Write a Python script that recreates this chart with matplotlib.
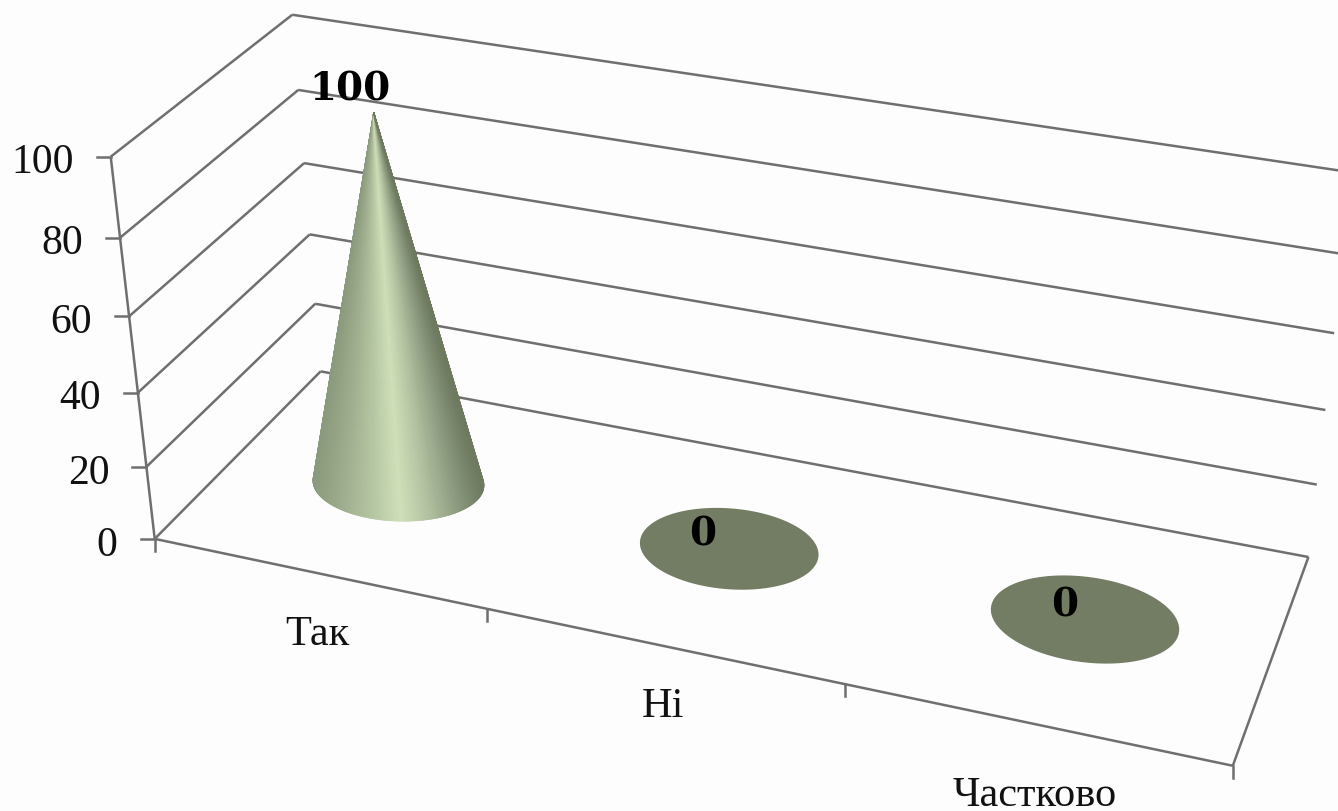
#!/usr/bin/env python3
"""3D cone chart (Так / Ні / Частково) drawn on a flat axes through a fitted camera."""
import matplotlib
matplotlib.use("Agg")
import matplotlib.pyplot as plt
import numpy as np
from matplotlib.collections import PolyCollection
from matplotlib.colors import LinearSegmentedColormap
from matplotlib.patches import Polygon

CATEGORIES = ["Так", "Ні", "Частково"]
VALUES = [100, 0, 0]
Y_TICKS = [0, 20, 40, 60, 80, 100]

LINE = "#6f6f6f"
LW = 1.8
BG = "#fdfdfd"
FLAT = "#737d64"
SERIF = "Liberation Serif"

# axis frame: (category, depth, value) -> where that corner sits in the image
CAMERA_POINTS = [
    (0, 0, 0, 154, 540), (0, 0, 20, 147, 468), (0, 0, 40, 138, 393),
    (0, 0, 60, 129, 316), (0, 0, 80, 120, 239), (0, 0, 100, 111, 158),
    (0, 1, 0, 321, 372), (0, 1, 20, 315, 305), (0, 1, 40, 310, 236),
    (0, 1, 60, 304, 164), (0, 1, 80, 298, 91), (0, 1, 100, 292, 16),
    (3, 1, 0, 1308, 557), (3, 1, 20, 1317, 486), (3, 1, 40, 1326, 411),
    (3, 1, 60, 1334, 334),
    (1, 0, 0, 487, 610), (2, 0, 0, 846, 686), (3, 0, 0, 1232, 767),
]
TIP_DROP = 4  # the cone's tip stops a few pixels short of the 100 plane


def fit_camera(points):
    rows, rhs = [], []
    for x, d, z, u, v in points:
        z = z / 100
        rows.append([x, d, z, 1, 0, 0, 0, 0, -u * x, -u * d, -u * z])
        rows.append([0, 0, 0, 0, x, d, z, 1, -v * x, -v * d, -v * z])
        rhs += [u, v]
    p, *_ = np.linalg.lstsq(np.array(rows, float), np.array(rhs, float), rcond=None)
    return np.append(p, 1).reshape(3, 4)


CAM = fit_camera(CAMERA_POINTS)


def project(x, d, z):
    x, d, z = np.broadcast_arrays(x, d, np.asarray(z) / 100)
    w = np.stack([x, d, z, np.ones_like(x, dtype=float)])
    s = CAM @ w
    return s[0] / s[2], s[1] / s[2]


def edge(ax, a, b):
    xa, ya = project(*a)
    xb, yb = project(*b)
    ax.plot([xa, xb], [ya, yb], color=LINE, lw=LW, solid_capstyle="butt", zorder=1)


fig = plt.figure(figsize=(13.38, 8.12), dpi=100, facecolor=BG)
ax = fig.add_axes([0, 0, 1, 1])
ax.set_xlim(0, 1338)
ax.set_ylim(812, 0)
ax.axis("off")

n = len(CATEGORIES)

# walls and floor
for t in Y_TICKS:
    edge(ax, (0, 0, t), (0, 1, t))
    edge(ax, (0, 1, t), (n, 1, t))
    x0, y0 = project(0, 0, t)
    ax.plot([x0 - 14, x0], [y0, y0], color=LINE, lw=LW, zorder=1)
    ax.text(x0 - 37, y0 + 1, str(t), family=SERIF, fontsize=30, color="#111111",
            ha="right", va="center_baseline")
edge(ax, (0, 0, 0), (0, 0, 100))
edge(ax, (0, 0, 0), (n, 0, 0))
edge(ax, (n, 0, 0), (n, 1, 0))
for i in range(n + 1):
    x0, y0 = project(i, 0, 0)
    ax.plot([x0, x0], [y0, y0 + 12], color=LINE, lw=LW, zorder=1)

# cones
cone_cmap = LinearSegmentedColormap.from_list("cone", [
    (0.0, "#8a9a7c"), (0.18, "#9fae8e"), (0.36, "#b6c7a3"), (0.52, "#cfe0b8"),
    (0.68, "#b2c1a0"), (0.85, "#8d9b80"), (1.0, "#6d7a60"),
])
RX, RD = 0.25, 0.2
theta = np.linspace(0, 2 * np.pi, 361)[:-1]
for i, val in enumerate(VALUES):
    cx = i + 0.5
    bx, by = project(cx + RX * np.cos(theta), 0.5 + RD * np.sin(theta), 0)
    if val == 0:
        ax.add_patch(Polygon(np.c_[bx, by], closed=True, fc=FLAT, ec="none", zorder=3))
        continue
    tip_x, tip_y = project(cx, 0.5, val)
    tip_y += TIP_DROP
    angle = np.arctan2(by - tip_y, bx - tip_x)
    left, right = int(np.argmax(angle)), int(np.argmin(angle))
    # front arc of the base, between the two silhouette tangents, through the lowest point
    idx = (left + np.arange((right - left) % 360 + 1)) % 360
    if int(np.argmax(by)) not in idx:
        idx = (right + np.arange((left - right) % 360 + 1)) % 360
    u = (bx - bx.min()) / (bx.max() - bx.min())
    polys, cols = [], []
    for a, b in zip(idx[:-1], idx[1:]):
        polys.append([(tip_x, tip_y), (bx[a], by[a]), (bx[b], by[b])])
        cols.append(cone_cmap((u[a] + u[b]) / 2))
    ax.add_collection(PolyCollection(polys, facecolors=cols, edgecolors=cols, lw=0.6, zorder=3))

# value labels, up and left of the cone tip / disc centre
VALUE_PAD = [(-24, -20), (-26, -14), (-20, -14)]
for i, val in enumerate(VALUES):
    px, py = project(i + 0.5, 0.5, val)
    ax.text(px + VALUE_PAD[i][0], py + VALUE_PAD[i][1], str(val), family="DejaVu Serif",
            weight="bold", fontsize=28, color="black", ha="center", va="center", zorder=5)

# category labels under the floor edge
LABEL_PAD = [(0, 61), (0, 60), (0, 71)]
for i, name in enumerate(CATEGORIES):
    px, py = project(i + 0.5, 0, 0)
    ax.text(px + LABEL_PAD[i][0], py + LABEL_PAD[i][1], name, family=SERIF, fontsize=30.5,
            color="#111111", ha="center", va="center")

fig.savefig("out.png", dpi=100, facecolor=BG)
plt.close(fig)
